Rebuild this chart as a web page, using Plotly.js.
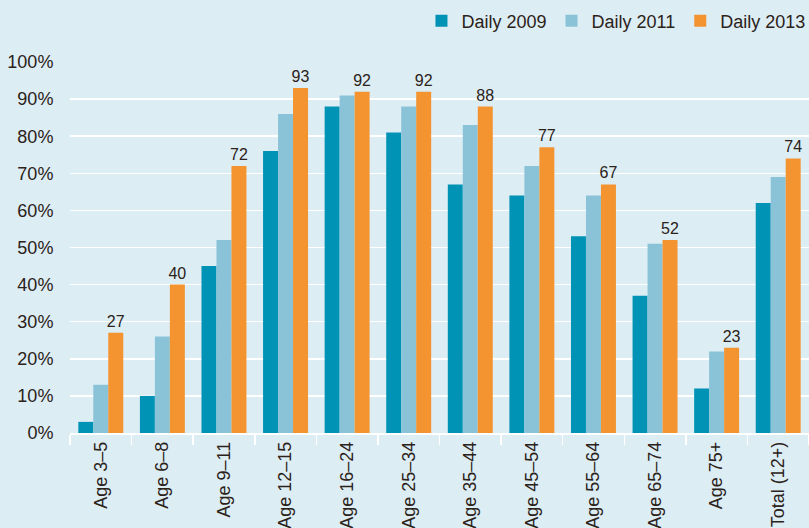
<!DOCTYPE html>
<html>
<head>
<meta charset="utf-8">
<script src="https://cdn.plot.ly/plotly-3.0.1.min.js"></script>
<style>html,body{margin:0;padding:0;background:#ddedf4;}#chart{width:809px;height:528px;}</style>
</head>
<body>
<div id="chart"></div>
<script>
const categories = ["Age 3\u20135","Age 6\u20138","Age 9\u201311","Age 12\u201315","Age 16\u201324","Age 25\u201334","Age 35\u201344","Age 45\u201354","Age 55\u201364","Age 65\u201374","Age 75+","Total (12+)"];
const daily2009 = [3,10,45,76,88,81,67,64,53,37,12,62];
const daily2011 = [13,26,52,86,91,88,83,72,64,51,22,69];
const daily2013 = [27,40,72,93,92,92,88,77,67,52,23,74];
const yTickVals = [0,10,20,30,40,50,60,70,80,90,100];
const yTickText = yTickVals.map(v => v + "%");

const textColor = "#2b2219";
const fam = "Liberation Sans, Arial, sans-serif";
const font = {family: fam, size: 18, color: textColor};

const traces = [
  {type: "bar", name: "Daily 2009", x: categories, y: daily2009, marker: {color: "#0093b6"}, hoverinfo: "none"},
  {type: "bar", name: "Daily 2011", x: categories, y: daily2011, marker: {color: "#8ac3d7"}, hoverinfo: "none"},
  {type: "bar", name: "Daily 2013", x: categories, y: daily2013, marker: {color: "#f39430"},
   text: daily2013.map(String), textposition: "outside", cliponaxis: false, constraintext: "none",
   textfont: {family: fam, size: 16, color: textColor}, hoverinfo: "none"}
];

const layout = {
  width: 809, height: 528,
  paper_bgcolor: "#ddedf4", plot_bgcolor: "#ddedf4",
  font: font,
  margin: {l: 70, r: 0, t: 62, b: 95, autoexpand: false},
  barmode: "group", bargap: 0.27, bargroupgap: 0,
  showlegend: true,
  legend: {orientation: "h", x: 1.002, xanchor: "right", y: 1.16, yanchor: "top",
           font: {family: fam, size: 18, color: textColor}, bgcolor: "rgba(0,0,0,0)",
           itemwidth: 30, traceorder: "normal"},
  xaxis: {type: "category", tickangle: -90, tickson: "boundaries", ticks: "outside", ticklen: 10,
          tickcolor: "#ffffff", tickwidth: 1.5, showline: true, linecolor: "#ffffff", linewidth: 1.5,
          showgrid: false, automargin: false, tickfont: {family: fam, size: 18, color: textColor}},
  yaxis: {range: [0, 100], tickvals: yTickVals, ticktext: yTickText, showgrid: true, gridcolor: "#ffffff",
          gridwidth: 1.5, zeroline: false, ticks: "outside", ticklen: 12, tickcolor: "rgba(0,0,0,0)",
          automargin: false, tickfont: {family: fam, size: 18, color: textColor}}
};

Plotly.newPlot("chart", traces, layout, {displayModeBar: false, staticPlot: true});
</script>
</body>
</html>
